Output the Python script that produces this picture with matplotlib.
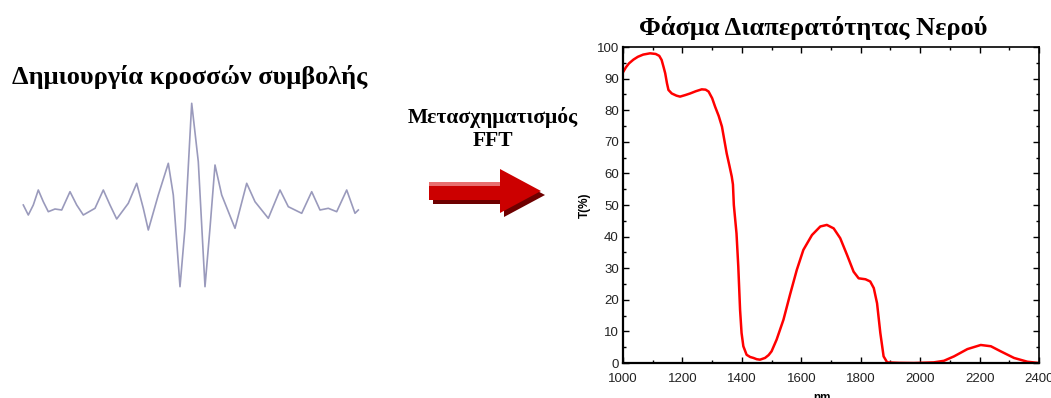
import numpy as np
import matplotlib
matplotlib.use("Agg")
import matplotlib.pyplot as plt
from matplotlib.patches import Polygon
from matplotlib.ticker import MultipleLocator

# =========================================
# Data
# =========================================
# Water transmission spectrum (nm, T%)
wavelength = [1000, 1010, 1020, 1035, 1050, 1068, 1091, 1110, 1122, 1130,
              1137, 1142, 1148, 1153, 1164, 1180, 1192, 1210, 1226, 1245,
              1265, 1278, 1288, 1300, 1310, 1322, 1333, 1349, 1358, 1366,
              1370, 1373, 1377, 1382, 1388, 1394, 1399, 1405, 1416, 1428,
              1439, 1450, 1461, 1478, 1490, 1500, 1517, 1540, 1562, 1585,
              1607, 1636, 1664, 1686, 1709, 1731, 1754, 1776, 1793, 1816,
              1832, 1844, 1855, 1866, 1877, 1889, 1930, 1979, 2046, 2080,
              2114, 2159, 2204, 2238, 2271, 2316, 2361, 2400]
transmission = [92.0, 93.6, 94.8, 96.0, 96.9, 97.6, 98.0, 97.8, 97.2, 95.9,
                93.5, 91.7, 88.5, 86.4, 85.3, 84.6, 84.3, 84.8, 85.3, 86.0,
                86.6, 86.5, 85.9, 83.8, 81.1, 78.2, 74.8, 66.3, 62.5, 59.0,
                56.5, 50.0, 46.0, 41.0, 30.5, 16.8, 9.5, 5.3, 2.6, 1.9,
                1.6, 1.2, 1.05, 1.6, 2.5, 3.7, 7.4, 13.7, 21.6, 29.5,
                35.8, 40.5, 43.2, 43.7, 42.6, 39.5, 34.2, 28.9, 26.8, 26.5,
                25.8, 23.7, 18.9, 9.5, 2.1, 0.2, 0.05, 0.0, 0.2, 0.7,
                2.1, 4.4, 5.7, 5.3, 3.7, 1.6, 0.4, 0.0]

# Interferogram sketch (path difference, signal) in arbitrary units
opd = [-168.4, -163.4, -158.4, -153.4, -148.4, -143.4, -136.7, -130.0,
       -121.7, -115.0, -108.4, -96.7, -88.4, -81.7, -75.0, -63.4, -55.0,
       -48.4, -43.4, -33.4, -23.4, -18.4, -11.7, -6.7, 0.0, 6.6, 13.3,
       18.3, 23.3, 30.0, 43.3, 55.0, 63.3, 76.6, 88.3, 96.6, 110.0, 120.0,
       128.3, 136.6, 145.0, 155.0, 163.3, 166.6]
signal = [2.0, -8.0, 2.0, 17.0, 5.3, -4.7, -2.0, -3.0, 15.3, 2.0, -8.0,
          -1.3, 17.0, 2.0, -12.0, 3.7, 23.7, -1.3, -23.0, 12.0, 43.7, 12.0,
          -79.7, -21.0, 103.7, 45.3, -79.7, -21.0, 42.0, 12.0, -21.3, 23.7,
          5.3, -11.3, 17.0, 0.3, -6.3, 15.3, -3.0, -1.3, -4.7, 17.0, -6.3,
          -3.0]

W, H = 1051, 398
fig = plt.figure(figsize=(W / 100, H / 100), dpi=100)
serif = ['Liberation Serif', 'DejaVu Serif']
sans = ['Liberation Sans', 'DejaVu Sans']


def fx(px):
    return px / W


def fy(py):
    return 1 - py / H


# =========================================
# Left: interferogram
# =========================================
ax_if = fig.add_axes([0, 0, 1, 1])
ax_if.set_xlim(-191.7, W - 191.7)
ax_if.set_ylim(-(H - 207), 207)
ax_if.axis('off')
ax_if.plot(opd, signal, color='#9a9abc', lw=1.2, solid_joinstyle='round')

fig.text(fx(190), fy(77), 'Δημιουργία κροσσών συμβολής', family=serif,
         weight='bold', fontsize=19, ha='center', va='center')

# =========================================
# Middle: FFT arrow
# =========================================
fig.text(fx(493), fy(117), 'Μετασχηματισμός', family=serif, weight='bold',
         fontsize=15.5, ha='center', va='center')
fig.text(fx(493), fy(141), 'FFT', family=serif, weight='bold',
         fontsize=15.5, ha='center', va='center')

ax_ar = fig.add_axes([0, 0, 1, 1])
ax_ar.set_xlim(0, W)
ax_ar.set_ylim(H, 0)
ax_ar.axis('off')


def arrow_pts(dx, dy):
    pts = [(429, 182), (500, 182), (500, 169), (541, 191), (500, 213),
           (500, 200), (429, 200)]
    return [(x + dx, y + dy) for x, y in pts]


ax_ar.add_patch(Polygon(arrow_pts(4, 4), closed=True, color='#6e0000', lw=0))
ax_ar.add_patch(Polygon(arrow_pts(0, 0), closed=True, color='#cc0000', lw=0))
ax_ar.add_patch(Polygon([(429, 182), (500, 182), (500, 186), (429, 186)],
                        closed=True, color='#e87070', lw=0))

# =========================================
# Right: transmission spectrum
# =========================================
ax = fig.add_axes([fx(623), fy(363), (1039 - 623) / W, (363 - 47) / H])
ax.plot(wavelength, transmission, color='#ff0000', lw=1.8)
ax.set_xlim(1000, 2400)
ax.set_ylim(0, 100)
ax.xaxis.set_major_locator(MultipleLocator(200))
ax.xaxis.set_minor_locator(MultipleLocator(100))
ax.yaxis.set_major_locator(MultipleLocator(10))
ax.yaxis.set_minor_locator(MultipleLocator(5))
ax.tick_params(which='both', direction='in', top=True, right=True,
               labelsize=9.5, width=1, labelcolor='#222222')
ax.tick_params(axis='x', pad=7)
ax.tick_params(axis='y', pad=3)
ax.tick_params(which='major', length=4.5)
ax.tick_params(which='minor', length=2.5)
for lab in ax.get_xticklabels() + ax.get_yticklabels():
    lab.set_family(sans)
for sp in ax.spines.values():
    sp.set_linewidth(1.2)
ax.spines['left'].set_linewidth(1.6)
ax.spines['bottom'].set_linewidth(1.6)
ax.set_ylabel('T(%)', family=sans, weight='bold', fontsize=8.5, labelpad=4)
fig.text(fx(822), fy(392), 'nm', family=sans, weight='bold', fontsize=8.5,
         ha='center', va='top')
fig.text(fx(813), fy(28), 'Φάσμα Διαπερατότητας Νερού', family=serif,
         weight='bold', fontsize=19, ha='center', va='center')

fig.savefig('out.png', dpi=100)
